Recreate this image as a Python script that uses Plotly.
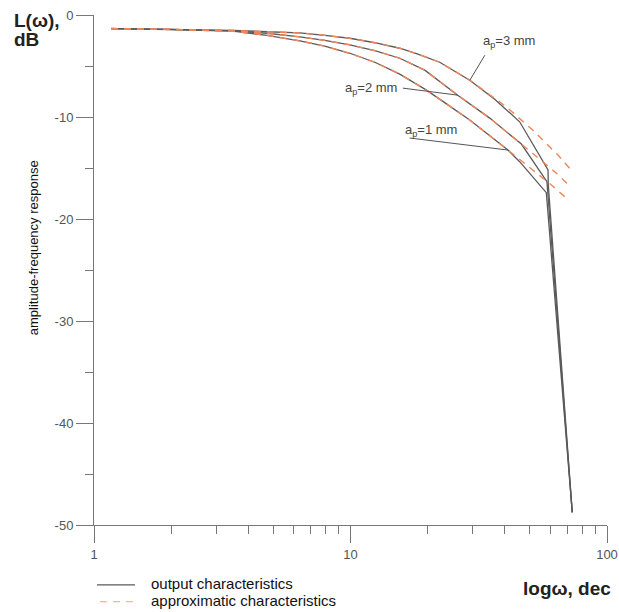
import plotly.graph_objects as go

# ---------------- data ----------------
# ap = 3 mm, output (solid)
w3_out = [1.165, 1.98, 3.48, 4.72, 6.35, 7.94, 9.94, 12.44, 15.56, 18.08, 22.28, 29.16, 36.49, 45.65, 58.9, 59.0, 73.2]
L3_out = [-1.33, -1.38, -1.50, -1.64, -1.76, -1.99, -2.28, -2.72, -3.26, -3.78, -4.63, -6.39, -8.25, -10.47, -15.2, -16.57, -48.76]
# ap = 2 mm, output (solid)
w2_out = [1.165, 1.98, 3.48, 4.72, 6.35, 7.94, 9.94, 12.44, 15.56, 19.48, 26.18, 34.89, 46.37, 58.33, 73.2]
L2_out = [-1.33, -1.40, -1.55, -1.79, -2.15, -2.48, -2.92, -3.50, -4.24, -5.41, -7.86, -10.11, -12.65, -16.34, -48.76]
# ap = 1 mm, output (solid)
w1_out = [1.165, 1.98, 3.48, 4.72, 6.35, 7.94, 9.94, 12.44, 15.56, 19.78, 24.37, 29.16, 41.1, 45.65, 58.0, 73.2]
L1_out = [-1.33, -1.42, -1.59, -1.99, -2.54, -3.06, -3.75, -4.63, -5.80, -7.37, -8.93, -10.30, -13.24, -14.38, -17.42, -48.76]

# approximated characteristics (dashed)
w3_apx = [1.165, 1.98, 3.48, 4.72, 6.35, 7.94, 9.94, 12.44, 15.56, 18.08, 22.28, 29.16, 40.5, 51.3, 64.4, 71.5]
L3_apx = [-1.33, -1.38, -1.50, -1.64, -1.76, -1.99, -2.28, -2.72, -3.26, -3.78, -4.63, -6.39, -9.0, -11.28, -13.73, -15.03]
w2_apx = [1.165, 1.98, 3.48, 4.72, 6.35, 7.94, 9.94, 12.44, 15.56, 19.48, 26.18, 34.89, 46.37, 62.5, 69.8]
L2_apx = [-1.33, -1.40, -1.55, -1.79, -2.15, -2.48, -2.92, -3.50, -4.24, -5.41, -7.86, -10.11, -12.65, -15.36, -16.5]
w1_apx = [1.165, 1.98, 3.48, 4.72, 6.35, 7.94, 9.94, 12.44, 15.56, 19.78, 24.37, 29.16, 41.1, 47.8, 54.6, 60.7, 68.4]
L1_apx = [-1.33, -1.42, -1.59, -1.99, -2.54, -3.06, -3.75, -4.63, -5.80, -7.37, -8.93, -10.30, -13.24, -14.54, -15.68, -16.66, -17.81]

# leader lines for the curve labels (data coordinates)
lead3_w = [33.4, 29.2]
lead3_L = [-3.94, -6.39]
lead2_w = [16.0, 26.2]
lead2_L = [-7.17, -7.86]
lead1_w = [17.0, 41.1]
lead1_L = [-12.06, -13.24]

x_tickvals = [1, 10, 100]
x_ticktext = ["1", "10", "100"]
x_minor = [2, 3, 4, 5, 6, 7, 8, 9, 20, 30, 40, 50, 60, 70, 80, 90]
y_tickvals = [0, -10, -20, -30, -40, -50]
y_ticktext = ["0", "-10", "-20", "-30", "-40", "-50"]

curve_labels = ["a<sub>p</sub>=3 mm", "a<sub>p</sub>=2 mm", "a<sub>p</sub>=1 mm"]
legend_labels = ["output characteristics", "approximatic characteristics"]

# ---------------- figure ----------------
FONT = "Arial, Liberation Sans, sans-serif"
SOLID = "#5a5a5a"
DASH = "#F0855C"
AX = "#777777"

# plot area in pixels
L_PX, R_PX, T_PX, B_PX = 94, 607.3, 14.7, 525
W, H = 619, 612


def pxx(x):
    return (x - L_PX) / (R_PX - L_PX)


def pxy(y):
    return (B_PX - y) / (B_PX - T_PX)


fig = go.Figure()

for w, L in [(w3_out, L3_out), (w2_out, L2_out), (w1_out, L1_out)]:
    fig.add_trace(go.Scatter(x=w, y=L, mode="lines", showlegend=False, hoverinfo="skip",
                             line=dict(color=SOLID, width=1.3)))
for w, L in [(w3_apx, L3_apx), (w2_apx, L2_apx), (w1_apx, L1_apx)]:
    fig.add_trace(go.Scatter(x=w, y=L, mode="lines", showlegend=False, hoverinfo="skip",
                             line=dict(color=DASH, width=1.4, dash="7px,6px")))
for w, L in [(lead3_w, lead3_L), (lead2_w, lead2_L), (lead1_w, lead1_L)]:
    fig.add_trace(go.Scatter(x=w, y=L, mode="lines", showlegend=False, hoverinfo="skip",
                             line=dict(color="#555555", width=1)))

annotations = []
# curve labels
for txt, cx, cy in [(curve_labels[0], 509, 41.7), (curve_labels[1], 371.5, 88.3),
                    (curve_labels[2], 431, 130)]:
    annotations.append(dict(text=txt, x=pxx(cx), y=pxy(cy), xref="paper", yref="paper",
                            showarrow=False, xanchor="center", yanchor="middle",
                            font=dict(family=FONT, size=13, color="#444444")))
# y axis title
annotations.append(dict(text="amplitude-frequency response", x=pxx(33), y=pxy(248),
                        xref="paper", yref="paper", showarrow=False, textangle=-90,
                        xanchor="center", yanchor="middle",
                        font=dict(family=FONT, size=13, color="#111111")))
# corner titles
annotations.append(dict(text="<b>L(ω),</b>", x=pxx(12), y=pxy(20.5), xref="paper", yref="paper",
                        showarrow=False, xanchor="left", yanchor="middle",
                        font=dict(family=FONT, size=19, color="#222222")))
annotations.append(dict(text="<b>dB</b>", x=pxx(12), y=pxy(39.5), xref="paper", yref="paper",
                        showarrow=False, xanchor="left", yanchor="middle",
                        font=dict(family=FONT, size=19, color="#222222")))
annotations.append(dict(text="<b>logω, dec</b>", x=pxx(613), y=pxy(589), xref="paper", yref="paper",
                        showarrow=False, xanchor="right", yanchor="middle",
                        font=dict(family=FONT, size=19, color="#222222")))
# legend texts
annotations.append(dict(text=legend_labels[0], x=pxx(149), y=pxy(583.5), xref="paper", yref="paper",
                        showarrow=False, xanchor="left", yanchor="middle",
                        font=dict(family=FONT, size=15, color="#111111")))
annotations.append(dict(text=legend_labels[1], x=pxx(149), y=pxy(601), xref="paper", yref="paper",
                        showarrow=False, xanchor="left", yanchor="middle",
                        font=dict(family=FONT, size=15, color="#111111")))

shapes = [
    dict(type="line", xref="paper", yref="paper", x0=pxx(97), x1=pxx(135), y0=pxy(585), y1=pxy(585),
         line=dict(color=SOLID, width=1.3)),
    dict(type="line", xref="paper", yref="paper", x0=pxx(100), x1=pxx(137), y0=pxy(601.7), y1=pxy(601.7),
         line=dict(color="#F7B49A", width=1.4, dash="7px,6px")),
]

fig.update_layout(
    width=W, height=H,
    margin=dict(l=L_PX, r=W - R_PX, t=T_PX, b=H - B_PX, autoexpand=False),
    paper_bgcolor="white", plot_bgcolor="white",
    showlegend=False,
    annotations=annotations,
    shapes=shapes,
    font=dict(family=FONT),
)
fig.update_xaxes(type="log", range=[0, 2], showgrid=False, zeroline=False,
                 showline=True, linecolor=AX, linewidth=1,
                 tickmode="array", tickvals=x_tickvals, ticktext=x_ticktext,
                 ticks="outside", ticklen=17, tickcolor=AX, tickwidth=1,
                 tickfont=dict(family=FONT, size=13, color="#555555"),
                 minor=dict(tickmode="array", tickvals=x_minor, ticks="outside",
                            ticklen=8, tickcolor=AX, tickwidth=1, showgrid=False))
fig.update_yaxes(range=[-50, 0], showgrid=False, zeroline=False,
                 showline=True, linecolor=AX, linewidth=1,
                 tickmode="array", tickvals=y_tickvals, ticktext=y_ticktext,
                 ticks="outside", ticklen=17, tickcolor=AX, tickwidth=1,
                 tickfont=dict(family=FONT, size=13, color="#555555"),
                 minor=dict(dtick=5, ticks="outside", ticklen=8, tickcolor=AX,
                            tickwidth=1, showgrid=False))

fig.write_html("out.html", config={"displayModeBar": False},
               post_script="document.body.style.margin='0';document.body.style.padding='0';")
